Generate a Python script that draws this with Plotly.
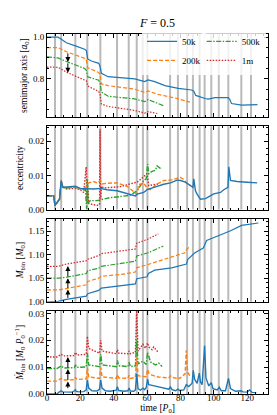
import plotly.graph_objects as go
from plotly.subplots import make_subplots

# ---------------- data ----------------
labels = ["50k", "200k", "500k", "1m"]
colors = ["#1f77b4", "#ff7f0e", "#2ca02c", "#d62728"]
dashes = ["solid", "4px,2px", "5px,1.5px,1.5px,1.5px", "1.5px,1.5px"]

grey_times = [4.8, 8.5, 17.0, 24.2, 32.0, 42.0, 49.0, 53.8, 57.5, 60.2, 73.8,
              78.5, 84.0, 87.5, 91.5, 94.5, 98.5, 103.0, 108.7, 116.5, 122.3]

# semimajor axis (offset curves)
a_t_50k = [0, 6.6, 8.6, 11.6, 16.6, 22.6, 23.6, 24.4, 26.6, 31.0, 31.8, 32.6, 36.6, 44.6,
           52.6, 58.6, 60.6, 64.6, 70.7, 78.7, 86.7, 88.0, 89.2, 94.7, 96.7, 100.7, 108.7,
           109.6, 110.6, 116.7, 126.2]
a_v_50k = [1.0, 1.0, 0.99, 0.973, 0.959, 0.942, 0.935, 0.895, 0.885, 0.874, 0.86, 0.826, 0.81,
           0.805, 0.799, 0.786, 0.794, 0.786, 0.767, 0.754, 0.746, 0.74, 0.72, 0.705, 0.702,
           0.709, 0.709, 0.70, 0.681, 0.673, 0.676]
a_t_200k = [0, 6.6, 11.6, 16.6, 22.6, 23.6, 24.4, 31.0, 31.8, 32.6, 36.6, 52.6, 58.6, 60.6,
            66.0, 76.0, 85.7]
a_v_200k = [0.95, 0.95, 0.93, 0.915, 0.898, 0.89, 0.853, 0.83, 0.82, 0.775, 0.767, 0.75,
            0.734, 0.742, 0.726, 0.709, 0.688]
a_t_500k = [0, 6.6, 11.6, 16.6, 22.6, 23.6, 24.4, 31.0, 31.8, 32.6, 36.6, 52.6, 58.6, 60.6,
            69.7]
a_v_500k = [0.905, 0.90, 0.883, 0.868, 0.849, 0.84, 0.809, 0.793, 0.78, 0.736, 0.716, 0.703,
            0.69, 0.70, 0.671]
a_t_1m = [0, 6.6, 11.6, 16.6, 22.6, 23.6, 24.4, 31.0, 31.8, 32.6, 36.6, 46.0, 52.6, 58.6,
          60.6, 66.7]
a_v_1m = [0.856, 0.855, 0.832, 0.815, 0.797, 0.79, 0.765, 0.739, 0.725, 0.679, 0.667, 0.656,
          0.648, 0.635, 0.642, 0.632]

# eccentricity
e_t_50k = [0, 4, 4.8, 6, 7.5, 8.5, 9.5, 12, 17, 20, 24, 28, 32, 36, 42, 46, 50, 53, 54, 58,
           60, 62, 66, 70, 74, 78, 80, 83, 86, 87.5, 88, 89, 90, 92, 95, 98, 100, 104, 106,
           108.5, 109, 110, 114, 120, 126]
e_v_50k = [0.004, 0.004, 0.0012, 0.002, 0.003, 0.0085, 0.0065, 0.0066, 0.0068, 0.0062, 0.006,
           0.006, 0.0062, 0.0058, 0.0055, 0.005, 0.0046, 0.004, 0.0045, 0.005, 0.0058, 0.0062,
           0.0068, 0.0074, 0.0078, 0.0086, 0.0085, 0.008, 0.007, 0.0065, 0.009, 0.0055, 0.0045,
           0.003, 0.0032, 0.0042, 0.0046, 0.005, 0.0058, 0.0065, 0.0125, 0.0085, 0.0082, 0.008,
           0.0078]
e_t_200k = [0, 4, 4.8, 6, 7.5, 8.5, 9.5, 12, 17, 20, 23, 24.2, 25, 28, 30, 32, 33, 36, 42,
            48, 52, 53.8, 55, 58, 60, 62, 66, 70, 74, 78, 80, 82, 84, 86]
e_v_200k = [0.004, 0.004, 0.0012, 0.002, 0.003, 0.0085, 0.0065, 0.0064, 0.0066, 0.006, 0.0062,
            0.0075, 0.0078, 0.0082, 0.0078, 0.0085, 0.0075, 0.0077, 0.0078, 0.0068, 0.0052,
            0.0045, 0.0072, 0.0078, 0.0062, 0.0058, 0.0075, 0.0085, 0.0086, 0.0092, 0.0094,
            0.0088, 0.0075, 0.007]
e_t_500k = [0, 4, 4.8, 6, 7.5, 8.5, 9.5, 12, 17, 20, 23, 23.8, 24.2, 24.6, 26, 30, 32, 34, 38,
            44, 50, 54, 56, 58, 59.5, 60.3, 61, 63, 65, 66, 67.5, 69]
e_v_500k = [0.004, 0.004, 0.0012, 0.002, 0.003, 0.008, 0.0065, 0.0063, 0.0066, 0.006, 0.0058,
            0.0, 0.009, 0.002, 0.0026, 0.0026, 0.0028, 0.0032, 0.0035, 0.0038, 0.0042, 0.0055,
            0.007, 0.0085, 0.009, 0.0133, 0.0105, 0.0112, 0.0115, 0.0128, 0.0122, 0.0118]
e_t_1m = [0, 4, 4.8, 6, 7.5, 8.5, 9.5, 12, 17, 20, 22, 23.5, 24, 24.5, 25, 27, 30, 31.5, 31.8,
          32.2, 32.6, 34, 38, 44, 50, 54, 56, 58, 60, 61, 64, 67]
e_v_1m = [0.004, 0.004, 0.0012, 0.002, 0.003, 0.0082, 0.0065, 0.006, 0.0062, 0.0058, 0.005,
          0.0125, 0.003, 0.007, 0.0018, 0.0015, 0.0012, 0.0015, 0.0235, 0.003, 0.0068, 0.0063,
          0.0065, 0.0067, 0.0075, 0.008, 0.0088, 0.0098, 0.0105, 0.007, 0.0072, 0.0075]

# binary mass (offset curves)
m_t_50k = [0, 6.6, 11.6, 22.6, 23.6, 24.4, 31.0, 32.6, 44.6, 53.0, 53.8, 58.6, 60.0, 60.8,
           64.6, 74.7, 80.7, 83.6, 84.4, 88.7, 93.7, 94.7, 95.7, 102.7, 109.7, 116.7, 126.7]
m_v_50k = [1.0, 1.001, 1.005, 1.01, 1.012, 1.017, 1.024, 1.029, 1.035, 1.038, 1.049, 1.052,
           1.053, 1.06, 1.067, 1.072, 1.077, 1.08, 1.09, 1.104, 1.114, 1.122, 1.13, 1.14, 1.15,
           1.162, 1.167]
m_t_200k = [0, 6.6, 11.6, 22.6, 23.6, 24.4, 31.0, 32.6, 44.6, 53.0, 53.8, 60.6, 66.7, 80.7,
            82.7, 83.6, 85.7]
m_v_200k = [1.025, 1.025, 1.028, 1.034, 1.036, 1.043, 1.05, 1.054, 1.058, 1.063, 1.072, 1.079,
            1.086, 1.101, 1.104, 1.111, 1.117]
m_t_500k = [0, 6.6, 11.6, 22.6, 23.6, 24.4, 31.0, 32.6, 44.6, 53.0, 53.8, 60.6, 69.7]
m_v_500k = [1.05, 1.05, 1.052, 1.058, 1.06, 1.066, 1.071, 1.075, 1.082, 1.086, 1.097, 1.104,
            1.118]
m_t_1m = [0, 6.6, 11.6, 22.6, 23.6, 24.4, 31.0, 32.6, 44.6, 53.0, 53.8, 60.6, 66.7]
m_v_1m = [1.075, 1.075, 1.08, 1.085, 1.087, 1.09, 1.098, 1.102, 1.107, 1.112, 1.124, 1.133,
          1.144]

# accretion rate (offset curves)
d_t_50k = [0, 6, 7, 8.5, 9.5, 12, 15, 16.5, 17, 17.5, 19, 22, 23.5, 24.2, 25, 27, 30, 31.5,
           32.2, 33, 35, 38, 41.5, 42.2, 43, 46, 48.5, 49.2, 50, 52, 53, 53.8, 54.6, 56, 57.6,
           58.5, 59.5, 60.3, 61, 63, 66, 70, 73, 74, 75, 77, 78.5, 79.5, 82, 83.5, 85, 87,
           87.7, 88.5, 90, 91.3, 92, 93, 94.5, 95.3, 97, 98.5, 99.5, 102, 103.3, 104.5, 107,
           108.8, 110, 113, 116.3, 117.5, 120, 121.5, 123, 125.5]
d_v_50k = [0, 0, 0.0006, 0.0012, 0.0008, 0.0007, 0.0007, 0.0012, 0.0016, 0.001, 0.0008,
           0.0009, 0.0015, 0.0052, 0.0022, 0.0012, 0.0011, 0.0018, 0.0052, 0.0022, 0.0012,
           0.001, 0.0014, 0.0027, 0.0013, 0.001, 0.0012, 0.0022, 0.0011, 0.001, 0.0015, 0.0075,
           0.002, 0.0014, 0.0022, 0.0016, 0.0024, 0.0055, 0.0035, 0.0032, 0.0028, 0.0022,
           0.0018, 0.0026, 0.0016, 0.0012, 0.0018, 0.0013, 0.0015, 0.0035, 0.0028, 0.004,
           0.0088, 0.0055, 0.004, 0.0078, 0.0045, 0.0035, 0.018, 0.006, 0.003, 0.0042, 0.002,
           0.0015, 0.0025, 0.0012, 0.0012, 0.0058, 0.002, 0.001, 0.0012, 0.0008, 0.0007, 0.0015,
           0.0006, 0.0005]
d_t_200k = [0, 6, 8.5, 10, 16.5, 17, 18, 23.5, 24.2, 25, 31.5, 32.2, 33, 41.5, 42.2, 43, 48.5,
            49.2, 50, 53, 53.8, 54.6, 59.5, 60.3, 61, 63, 67, 73, 74, 75, 78, 78.5, 79.5, 82.8,
            83.5, 84.3, 86]
d_v_200k = [0.0048, 0.0048, 0.0058, 0.0052, 0.0053, 0.0062, 0.0054, 0.0056, 0.0098, 0.0064,
            0.0058, 0.0098, 0.0064, 0.0058, 0.0072, 0.006, 0.0058, 0.007, 0.0058, 0.0062, 0.0135,
            0.0068, 0.0064, 0.0092, 0.0078, 0.007, 0.0063, 0.006, 0.0068, 0.0062, 0.0058,
            0.0062, 0.0058, 0.0075, 0.0162, 0.008, 0.0065]
d_t_500k = [0, 6, 8.5, 10, 16.5, 17, 18, 23.5, 24.2, 25, 31.5, 32.2, 33, 41.5, 42.2, 43, 48.5,
            49.2, 50, 53, 53.8, 54.6, 57.5, 59.5, 60.3, 62, 65, 67, 69]
d_v_500k = [0.0095, 0.0095, 0.0105, 0.0097, 0.0098, 0.0108, 0.0099, 0.0101, 0.0152, 0.0108,
            0.0102, 0.0148, 0.0108, 0.0102, 0.0125, 0.0105, 0.0102, 0.0118, 0.0102, 0.0105,
            0.02, 0.0112, 0.0122, 0.011, 0.0155, 0.012, 0.0108, 0.0115, 0.0102]
d_t_1m = [0, 6, 8.5, 10, 16.5, 17, 18, 23.5, 24.2, 25, 31.5, 32.2, 33, 41.5, 42.2, 43, 48.5,
          49.2, 50, 53, 53.8, 54.6, 57.5, 59, 60.3, 61, 63, 64, 66, 67]
d_v_1m = [0.0138, 0.0138, 0.0148, 0.0142, 0.0143, 0.0155, 0.0145, 0.0148, 0.0215, 0.017,
          0.0152, 0.02, 0.016, 0.015, 0.0165, 0.0152, 0.015, 0.016, 0.015, 0.0155, 0.031,
          0.016, 0.0185, 0.017, 0.019, 0.0175, 0.0165, 0.0175, 0.016, 0.0155]

# offset arrows (tail, head) per panel
arrow_t = 12.5
arrows_a = [(0.94, 0.929), (0.929, 0.881), (0.881, 0.829)]
arrows_m = [(1.005, 1.026), (1.026, 1.05), (1.05, 1.076)]
arrows_d = [(0.0016, 0.0047), (0.0047, 0.0093), (0.0093, 0.0138)]

# ---------------- figure ----------------
FONT = "Liberation Serif"
fig = make_subplots(rows=4, cols=1, shared_xaxes=True, vertical_spacing=0.025)

panels = [
    ([a_t_50k, a_t_200k, a_t_500k, a_t_1m], [a_v_50k, a_v_200k, a_v_500k, a_v_1m]),
    ([e_t_50k, e_t_200k, e_t_500k, e_t_1m], [e_v_50k, e_v_200k, e_v_500k, e_v_1m]),
    ([m_t_50k, m_t_200k, m_t_500k, m_t_1m], [m_v_50k, m_v_200k, m_v_500k, m_v_1m]),
    ([d_t_50k, d_t_200k, d_t_500k, d_t_1m], [d_v_50k, d_v_200k, d_v_500k, d_v_1m]),
]
legend_of = ["legend", "legend", "legend2", "legend2"]
for r, (ts, vs) in enumerate(panels, start=1):
    order = [3, 2, 1, 0] if r in (2, 4) else [0, 1, 2, 3]
    for i in order:
        fig.add_trace(go.Scatter(
            x=ts[i], y=vs[i], mode="lines", name=labels[i],
            line=dict(color=colors[i], width=1.4 if r in (2, 4) else 1.2, dash=dashes[i]),
            showlegend=(r == 1), legend=legend_of[i], legendrank=i,
        ), row=r, col=1)

for t in grey_times:
    fig.add_vline(x=t, row="all", col=1, line=dict(color="rgba(140,140,140,0.6)", width=2),
                  layer="below")

for r, arr in [(1, arrows_a), (3, arrows_m), (4, arrows_d)]:
    xr = "x" if r == 1 else f"x{r}"
    yr = "y" if r == 1 else f"y{r}"
    for tail, head in arr:
        fig.add_annotation(x=arrow_t, y=head, ax=arrow_t, ay=tail, xref=xr, yref=yr,
                           axref=xr, ayref=yr, showarrow=True, arrowhead=2, arrowsize=1,
                           arrowwidth=1, arrowcolor="black", text="", standoff=0,
                           startstandoff=0)

axis_common = dict(ticks="inside", mirror="ticks", showline=True, linecolor="black",
                   linewidth=1, ticklen=4, tickwidth=0.8, tickcolor="black", showgrid=False,
                   zeroline=False, tickfont=dict(family=FONT, size=9, color="black"))
for r in range(1, 5):
    fig.update_xaxes(range=[0, 132.5], dtick=20, tick0=0, showticklabels=(r == 4),
                     minor=dict(dtick=5, ticks="inside", ticklen=2, tickcolor="black",
                                tickwidth=0.6),
                     row=r, col=1, **axis_common)

yspecs = [
    dict(range=[0.615, 1.015], dtick=0.2, tick0=0, tickformat=".1f", mdt=0.05,
         title="semimajor axis [<i>a</i><sub>0</sub>]"),
    dict(range=[0, 0.0244], dtick=0.01, tick0=0, tickformat=".2f", mdt=0.002,
         title="eccentricity"),
    dict(range=[1.0, 1.1766], dtick=0.05, tick0=0, tickformat=".2f", mdt=0.01,
         title="<i>M</i><sub>bin</sub> [<i>M</i><sub>0</sub>]"),
    dict(range=[0, 0.031], dtick=0.01, tick0=0, tickformat=".2f", mdt=0.002,
         title="<i>Ṁ</i><sub>bin</sub> [<i>M</i><sub>0</sub> <i>P</i><sub>0</sub><sup>−1</sup>]"),
]
for r, s in enumerate(yspecs, start=1):
    fig.update_yaxes(range=s["range"], dtick=s["dtick"], tick0=s["tick0"],
                     tickformat=s["tickformat"],
                     minor=dict(dtick=s["mdt"], ticks="inside", ticklen=2, tickcolor="black",
                                tickwidth=0.6),
                     title=dict(text=s["title"], font=dict(family=FONT, size=9.5, color="black"),
                                standoff=3),
                     row=r, col=1, **axis_common)

fig.update_xaxes(ticklabelstandoff=-5,
                 title=dict(text="time [<i>P</i><sub>0</sub>]",
                            font=dict(family=FONT, size=9.5, color="black"), standoff=0),
                 row=4, col=1)

legend_style = dict(bgcolor="rgba(255,255,255,0.8)", borderwidth=0, yanchor="top",
                    xanchor="left", font=dict(family=FONT, size=9, color="black"),
                    tracegroupgap=0, itemwidth=30)
fig.update_layout(
    width=277, height=415,
    margin=dict(l=39, r=17, t=26, b=29, autoexpand=False),
    paper_bgcolor="white", plot_bgcolor="white",
    title=dict(text="<i>F</i> = 0.5", x=0.5, xref="paper", y=1 - 15 / 415, yanchor="middle",
               font=dict(family=FONT, size=12, color="black")),
    legend=dict(x=0.43, y=1.02, **legend_style),
    legend2=dict(x=0.70, y=1.02, **legend_style),
)

fig.write_html("out.html")
